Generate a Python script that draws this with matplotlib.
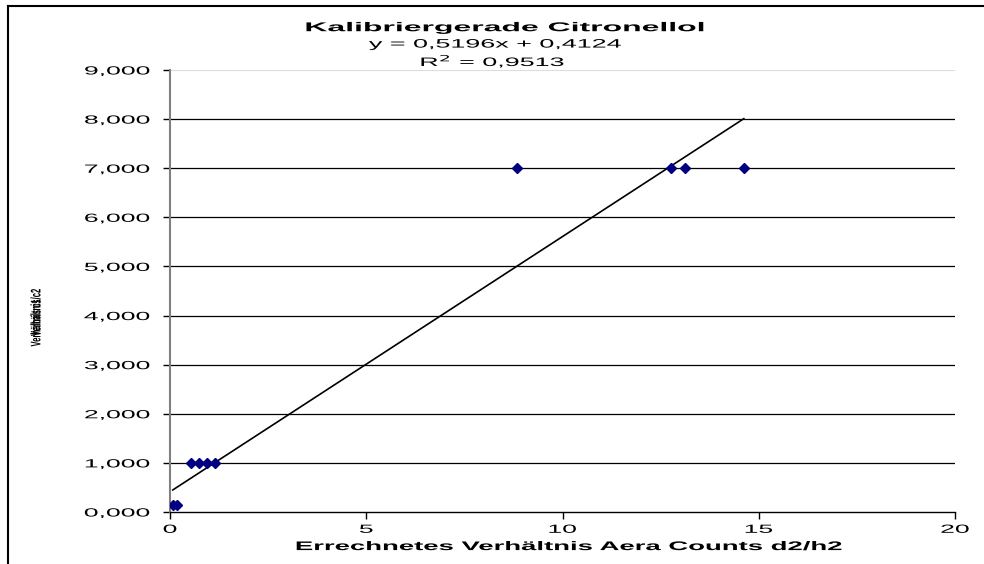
import matplotlib
matplotlib.use("Agg")
import matplotlib.pyplot as plt
from matplotlib.lines import Line2D
from matplotlib.ticker import FuncFormatter
from matplotlib.patheffects import AbstractPathEffect
from matplotlib.transforms import Affine2D
import numpy as np

plt.rcParams['font.family'] = ['Liberation Sans', 'DejaVu Sans']

# Data
x_vals = [0.07, 0.17, 0.53, 0.74, 0.94, 1.14, 8.84, 12.76, 13.12, 14.62]
y_vals = [0.14, 0.14, 1.0, 1.0, 1.0, 1.0, 7.0, 7.0, 7.0, 7.0]
slope = 0.5196
intercept = 0.4124
title = "Kalibriergerade Citronellol"
eq_text = "y = 0,5196x + 0,4124"
r2_text = "R$^2$ = 0,9513"
x_label = "Errechnetes Verhältnis Aera Counts d2/h2"
y_labels = ["Verhältnis", "Verhältnis c1/c2"]
x_ticks = [0, 5, 10, 15, 20]
y_ticks = [0, 1, 2, 3, 4, 5, 6, 7, 8, 9]


class Stretch(AbstractPathEffect):
    """Horizontally stretch glyphs (in text direction) like the wide Excel font."""
    def __init__(self, sx, anchor='center'):
        super().__init__()
        self.sx = sx
        self.anchor = anchor

    def draw_path(self, renderer, gc, tpath, affine, rgbFace=None):
        ext = tpath.get_extents()
        if self.anchor == 'left':
            a = 0.0
        elif self.anchor == 'right':
            a = ext.x1
        else:
            a = (ext.x0 + ext.x1) / 2
        t = Affine2D().translate(-a, 0).scale(self.sx, 1).translate(a, 0) + affine
        renderer.draw_path(gc, tpath, t, rgbFace)


fig = plt.figure(figsize=(9.84, 5.64), dpi=100)
ax = fig.add_axes([0.1728, 0.0922, 0.7977, 0.7837])

ax.set_xlim(0, 20)
ax.set_ylim(0, 9)
ax.set_xticks(x_ticks)
ax.set_yticks(y_ticks)
ax.yaxis.set_major_formatter(FuncFormatter(lambda v, p: f"{v:.3f}".replace('.', ',')))

# gridlines
for yt in y_ticks[1:-1]:
    ax.axhline(yt, color='black', lw=0.9, zorder=1)
ax.axhline(y_ticks[-1], color='#dddddd', lw=1.5, zorder=1)

for s in ['top', 'right']:
    ax.spines[s].set_visible(False)
ax.spines['left'].set_color('#808080')
ax.spines['left'].set_linewidth(1.5)
ax.spines['bottom'].set_color('black')
ax.spines['bottom'].set_linewidth(1.0)

ax.tick_params(axis='both', direction='out', length=5, width=1, labelsize=8.5, colors='black')
ax.tick_params(axis='y', pad=9.5)
ax.tick_params(axis='x', pad=3.5)

for lab in ax.get_yticklabels():
    lab.set_path_effects([Stretch(2.25, 'right')])
for lab in ax.get_xticklabels():
    lab.set_path_effects([Stretch(2.25, 'center')])

# trendline over data range
xs = np.array([min(x_vals), max(x_vals)])
ax.plot(xs, slope * xs + intercept, color='black', lw=1.2, zorder=2)

ax.plot(x_vals, y_vals, linestyle='none', marker='D', markersize=5.5,
        color='#000080', markeredgecolor='#000080', zorder=3)

fig.text(0.578, 0.030, x_label, ha='center', va='center', fontsize=9,
         fontweight='bold', path_effects=[Stretch(2.2)])

fig.text(0.513, 0.950, title, ha='center', va='center', fontsize=9.2,
         fontweight='bold', path_effects=[Stretch(2.5)])
fig.text(0.503, 0.921, eq_text, ha='center', va='center', fontsize=8.8,
         path_effects=[Stretch(2.2)])
fig.text(0.501, 0.891, r2_text, ha='center', va='center', fontsize=8.8,
         path_effects=[Stretch(2.2)])

for lab in y_labels:
    fig.text(0.037, 0.437, lab, rotation=90, ha='center', va='center',
             fontsize=10, fontweight='bold', path_effects=[Stretch(0.55)])

# chart border (left and top)
fig.add_artist(Line2D([0.0085, 0.0085], [0.0, 0.99], color='black', lw=1.5, transform=fig.transFigure))
fig.add_artist(Line2D([0.0085, 1.0], [0.99, 0.99], color='black', lw=1.5, transform=fig.transFigure))

fig.savefig("out.png", dpi=100)
